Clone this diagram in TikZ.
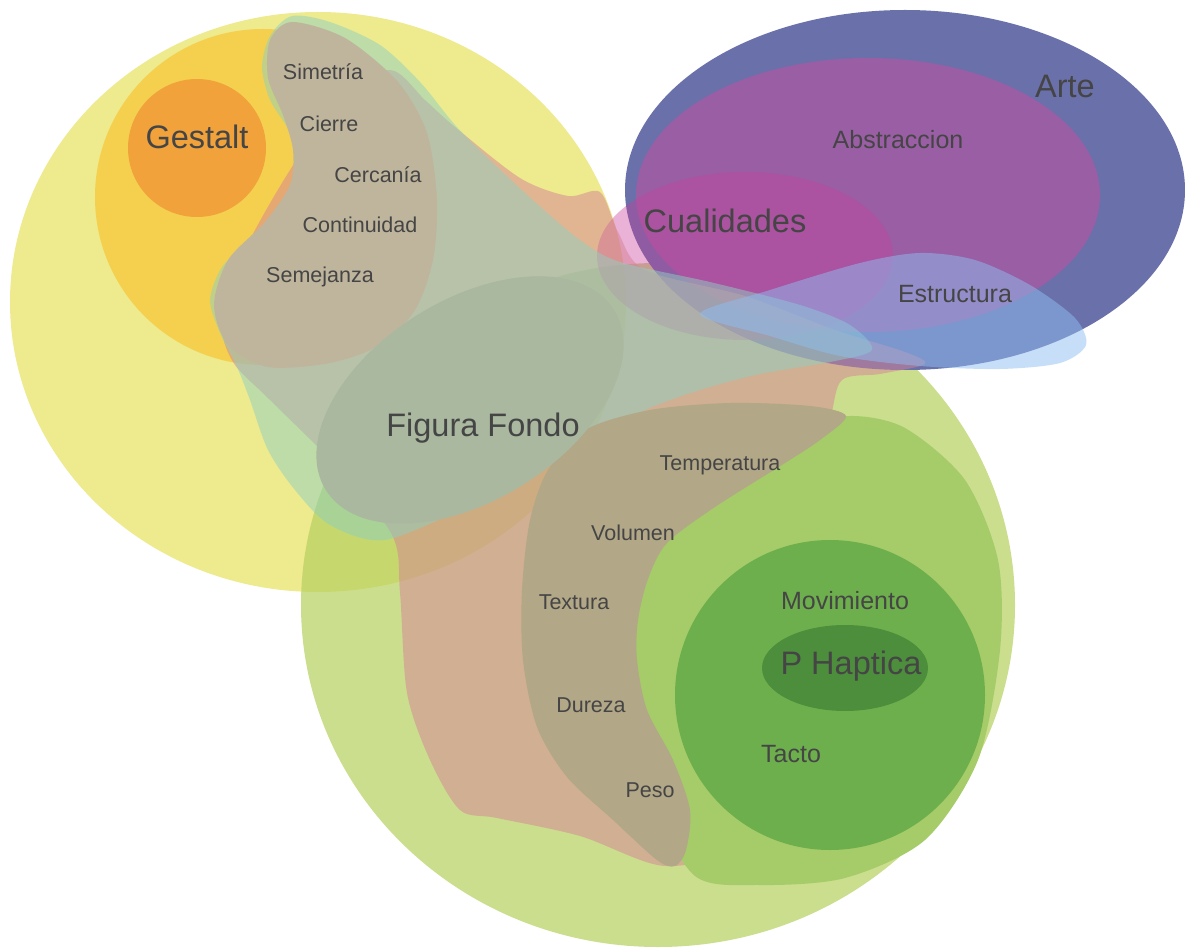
\documentclass[tikz,border=0pt]{standalone}
\usepackage{fontspec}
\setmainfont{Liberation Sans}
\definecolor{pale}{HTML}{EEEA8E}
\definecolor{amber}{HTML}{F4D04E}
\definecolor{gestaltorange}{HTML}{F1A23B}
\definecolor{leaf}{HTML}{B6D15F}
\definecolor{artblue}{HTML}{6A70AA}
\definecolor{abstr}{HTML}{C050A0}
\definecolor{qual}{HTML}{C8409A}
\definecolor{salmon}{RGB}{215,130,150}
\definecolor{teal}{RGB}{142,208,192}
\definecolor{midgreen}{HTML}{A5CC68}
\definecolor{olive}{HTML}{B2A787}
\definecolor{darkgreen}{HTML}{6EAF4D}
\definecolor{haptic}{HTML}{4D8E3D}
\definecolor{taupe}{HTML}{BFB59D}
\definecolor{ground}{HTML}{AAB8A0}
\definecolor{struct}{RGB}{142,190,240}
\definecolor{labelgray}{HTML}{454545}
\begin{document}
\begin{tikzpicture}[x=1pt,y=-1pt,
  lbl/.style={text=labelgray, inner sep=0pt, font=\fontsize{21.5}{24}\selectfont},
  lblmid/.style={lbl, font=\fontsize{25}{28}\selectfont},
  lblbig/.style={lbl, font=\fontsize{32.5}{36}\selectfont},
  blob/.style={smooth cycle, tension=0.5}]
\useasboundingbox (0,0) rectangle (1185,949);
\fill[white] (0,0) rectangle (1185,949);

% perception sets on the left
\fill[pale] (318,302) ellipse [x radius=308pt, y radius=290pt];
\fill[amber] (263,197) circle [radius=168pt];
\fill[gestaltorange] (197,148) circle [radius=69pt];

% tactile world
\fill[leaf, fill opacity=0.7] (658,605) ellipse [x radius=357pt, y radius=342pt];

% art
\fill[artblue] (905,190) ellipse [x radius=280pt, y radius=180pt];
\fill[abstr, fill opacity=0.55] (868,195) ellipse [x radius=232pt, y radius=137pt];
\fill[qual, fill opacity=0.4] (745,256) ellipse [x radius=148pt, y radius=84pt];

% qualities band
\fill[salmon, fill opacity=0.5] plot[blob] coordinates {
  (390,70) (425,100) (455,127) (520,178) (568,196) (600,192) (618,232)
  (645,270) (745,296) (835,330) (905,352) (925,364) (880,374) (842,380)
  (830,420) (805,520) (770,700) (730,840) (665,866) (580,836) (497,818)
  (460,810) (430,760) (407,693) (400,593) (392,535) (333,463) (270,400)
  (233,362) (222,320) (245,250) (290,170) (340,100)};

% figure-ground region
\fill[teal, fill opacity=0.5] plot[blob] coordinates {
  (292,16) (330,22) (380,45) (420,82) (455,125) (490,160) (535,202)
  (580,240) (620,262) (710,282) (800,305) (850,325) (872,350) (830,362)
  (760,374) (700,390) (645,410) (590,440) (540,470) (470,505) (385,540)
  (330,525) (295,490) (268,450) (250,400) (237,367) (220,333) (210,300)
  (222,267) (250,240) (282,205) (296,167) (290,133) (270,100) (262,67)
  (270,36)};

% haptic sets
\fill[midgreen] plot[blob] coordinates {
  (850,416) (905,428) (965,480) (998,560) (1000,650) (978,760) (925,840)
  (845,878) (760,885) (695,876) (655,800) (625,660) (660,530) (735,465)
  (800,430)};
\fill[olive] plot[blob] coordinates {
  (530,520) (548,470) (585,430) (650,410) (730,403) (810,406) (846,416)
  (820,440) (785,463) (715,507) (667,543) (648,579) (638,620) (637,660)
  (647,710) (673,760) (690,810) (686,850) (675,866) (657,860) (613,820)
  (567,777) (537,727) (523,660) (522,590)};
\fill[darkgreen] (830,695) circle [radius=155pt];
\fill[haptic] (845,668) ellipse [x radius=83pt, y radius=43pt];

% gestalt laws
\fill[taupe] plot[blob] coordinates {
  (292,22) (345,38) (398,82) (427,133) (437,200) (433,260) (415,310)
  (380,345) (330,363) (268,367) (228,345) (214,305) (228,260) (265,222)
  (290,185) (293,150) (283,115) (268,78) (270,40)};

% figure and ground
\begin{scope}[shift={(470,400)}, rotate=32]
  \fill[ground] (0,0) ellipse [x radius=170pt, y radius=100pt];
\end{scope}

% structure
\fill[struct, fill opacity=0.5] plot[blob] coordinates {
  (700,314) (770,290) (860,263) (920,253) (975,260) (1030,285)
  (1075,318) (1086,345) (1060,363) (1000,369) (920,366) (840,356)
  (770,336)};

% labels
\node[lblbig] (gestalt) at (197,137) {Gestalt};
\node[lbl] (simetria) at (323,72) {Simetría};
\node[lbl] (cierre) at (329,124) {Cierre};
\node[lbl] (cercania) at (378,175) {Cercanía};
\node[lbl] (continuidad) at (360,225) {Continuidad};
\node[lbl] (semejanza) at (320,277) {Semejanza};
\node[lblbig] (figura) at (483,428) {Figura Fondo};
\node[lblbig] (arte) at (1065,86) {Arte};
\node[lblmid] (abstraccion) at (898,140) {Abstraccion};
\node[lblbig] (cualidades) at (725,221) {Cualidades};
\node[lblmid] (estructura) at (955,294) {Estructura};
\node[lbl] (temperatura) at (720,465) {Temperatura};
\node[lbl] (volumen) at (633,533) {Volumen};
\node[lbl] (textura) at (574,602) {Textura};
\node[lbl] (dureza) at (591,705) {Dureza};
\node[lbl] (peso) at (650,790) {Peso};
\node[lblmid] (movimiento) at (845,601) {Movimiento};
\node[lblbig] (haptica) at (851,666) {P Haptica};
\node[lblmid] (tacto) at (791,754) {Tacto};
\end{tikzpicture}
\end{document}
